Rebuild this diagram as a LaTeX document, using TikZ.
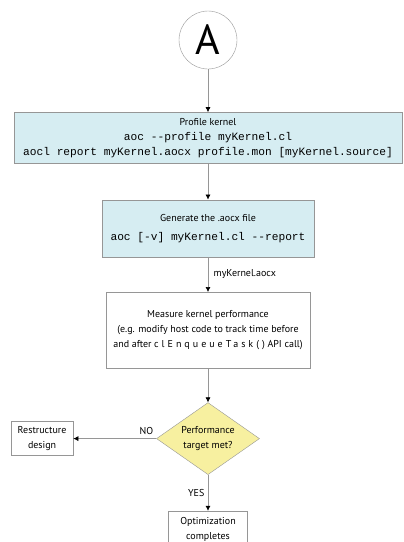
\documentclass[tikz,border=0pt]{standalone}
\usepackage{fontspec}
\setmainfont{PT Sans}
\setmonofont{Liberation Mono}
\usepackage{xcolor}
\usepackage{tikz}
\usetikzlibrary{shapes,arrows.meta,positioning}
\definecolor{boxblue}{RGB}{214,237,242}
\definecolor{boxline}{RGB}{150,150,150}
\definecolor{decyellow}{RGB}{247,240,160}
\newcommand{\aoccode}[1]{{\fontsize{11.2}{13}\selectfont\ttfamily #1}}

\begin{document}
\begin{tikzpicture}[
	x=1pt, y=1pt,
	every node/.style = {font=\fontsize{10}{15}\selectfont},
	box/.style = {shape=rectangle, draw=boxline, fill=white,
	align=center, inner sep=2pt},
	bluebox/.style = {box, fill=boxblue},
	decision/.style = {shape=diamond, aspect=1.43, draw=boxline,
	fill=decyellow, align=center, inner sep=0pt,
	minimum width=103pt, minimum height=72pt},
	flow/.style = {draw=boxline, line width=0.6pt,
	-{Latex[black,length=5pt,width=5pt]}}
]
\useasboundingbox (0,0) rectangle (404,-542);
\node[circle, draw=boxline, minimum size=58pt, inner sep=0pt,
	font=\fontsize{42}{42}\selectfont] (start) at (208,-40) {A};
\node[bluebox, minimum width=388pt, minimum height=51pt, below=43pt of start] (profile)
	{Profile kernel\\
	\aoccode{aoc --profile myKernel.cl}\\
	\aoccode{aocl report myKernel.aocx profile.mon [myKernel.source]}};
\node[bluebox, minimum width=212pt, minimum height=57pt, below=36pt of profile] (generate)
	{Generate the .aocx file\\[4pt]
	\aoccode{aoc [-v] myKernel.cl --report}};
\node[box, minimum width=204pt, minimum height=76pt, below=35pt of generate] (measure)
	{Measure kernel performance\\
	(e.g. modify host code to track time before\\
	and after {\addfontfeature{LetterSpace=30}clEnqueueTask()}\ API call)};
\node[decision, below=34pt of measure] (target) {Performance\\target met?};
\node[box, minimum width=62pt, minimum height=34pt, left=83pt of target] (restructure)
	{Restructure\\design};
\node[box, minimum width=79pt, minimum height=36pt, below=36pt of target] (done)
	{Optimization\\completes};

\draw[flow] (start) -- (profile);
\draw[flow] (profile) -- (generate);
\draw[flow] (generate) -- node[right, xshift=2pt] {myKernel.aocx} (measure);
\draw[flow] (measure) -- (target);
\draw[flow] (target) -- node[above, pos=0.12] {NO} (restructure);
\draw[flow] (target) -- node[left] {YES} (done);
\end{tikzpicture}
\end{document}
